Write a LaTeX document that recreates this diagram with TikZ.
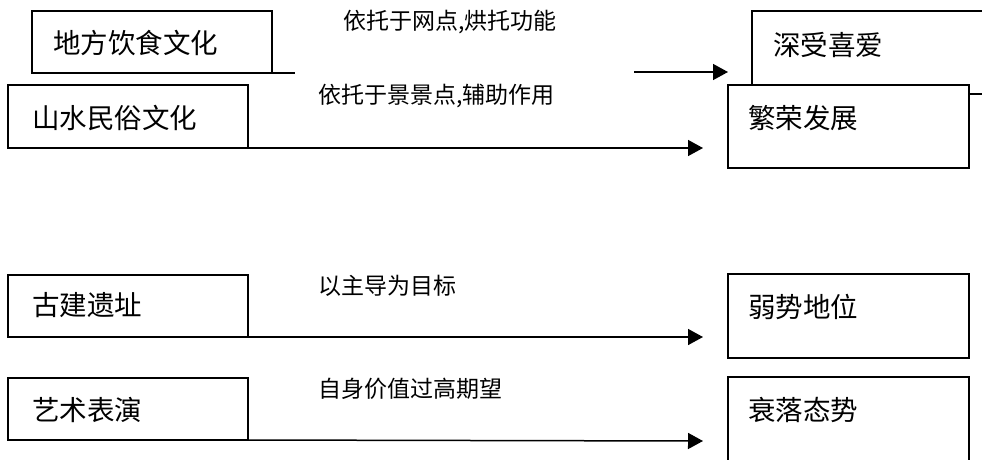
\documentclass[tikz,border=0pt]{standalone}
\usepackage{fontspec}
\setmainfont{Noto Sans CJK SC}
\usetikzlibrary{arrows.meta}
\begin{document}
\begin{tikzpicture}[x=1pt,y=-1pt,
  box/.style={draw,line width=1.5pt,fill=white,inner sep=0pt,outer sep=0pt,anchor=north west},
  boxtext/.style={font=\fontsize{27.5}{27.5}\selectfont,anchor=west,inner sep=0pt},
  lbl/.style={font=\fontsize{23}{23}\selectfont,anchor=west,inner sep=0pt},
  conn/.style={line width=1.5pt},
  arr/.style={conn,-{Triangle[length=15pt,width=16pt]}}]
\useasboundingbox (0,0) rectangle (982,459);
\clip (0,0) rectangle (982,459);
\fill[white] (0,0) rectangle (982,459);
% boxes
\node[box,minimum width=240pt,minimum height=62pt] (b1) at (32,11) {};
\node[box,minimum width=240pt,minimum height=63pt] (b2) at (8,85) {};
\node[box,minimum width=250pt,minimum height=83pt] (b3) at (752,11) {};
\node[box,minimum width=241pt,minimum height=83pt] (b4) at (728,85) {};
\node[box,minimum width=240pt,minimum height=62pt] (b5) at (8,275) {};
\node[box,minimum width=240pt,minimum height=62pt] (b6) at (8,378) {};
\node[box,minimum width=241pt,minimum height=84pt] (b7) at (728,274) {};
\node[box,minimum width=241pt,minimum height=95pt] (b8) at (728,377) {};
% box texts
\node[boxtext] (t1) at (53,43) {地方饮食文化};
\node[boxtext] (t2) at (32,118) {山水民俗文化};
\node[boxtext] (t3) at (773,45) {深受喜爱};
\node[boxtext] (t4) at (748,118) {繁荣发展};
\node[boxtext] (t5) at (32,305) {古建遗址};
\node[boxtext] (t6) at (32,410) {艺术表演};
\node[boxtext] (t7) at (748,307) {弱势地位};
\node[boxtext] (t8) at (748,410) {衰落态势};
% labels
\node[lbl] (l1) at (343,22) {依托于网点,烘托功能};
\node[lbl] (l2) at (318,96) {依托于景景点,辅助作用};
\node[lbl] (l3) at (318,286) {以主导为目标};
\node[lbl] (l4) at (318,389) {自身价值过高期望};
% connectors
\coordinate (s1) at (295,73);
\draw[conn] (b1.south east) -- (s1);
\coordinate (a1s) at (634,72);
\coordinate (a1e) at (728,72);
\draw[arr] (a1s) -- (a1e);
\coordinate (e2) at (703,148);
\draw[arr] (b2.south east) -- (e2);
\coordinate (e5) at (703,337);
\draw[arr] (b5.south east) -- (e5);
\coordinate (e6) at (703,441);
\draw[arr] (b6.south east) -- (e6);
\end{tikzpicture}
\end{document}
